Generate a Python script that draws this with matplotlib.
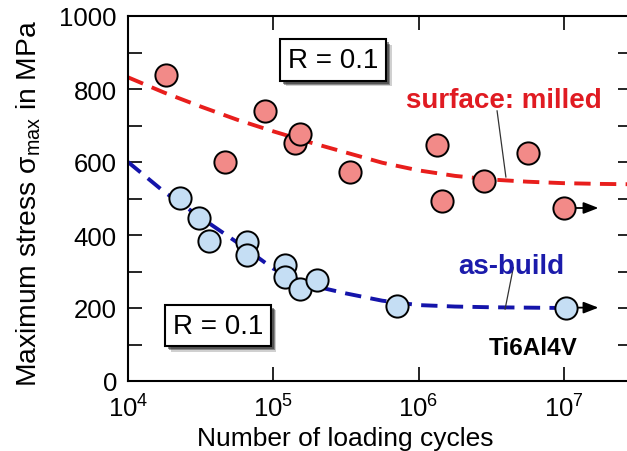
import numpy as np
import matplotlib
matplotlib.use("Agg")
import matplotlib.pyplot as plt
from matplotlib import patheffects as pe

plt.rcParams["font.family"] = ["Liberation Sans", "DejaVu Sans"]
plt.rcParams["mathtext.fontset"] = "custom"
plt.rcParams["mathtext.rm"] = "Liberation Sans"
plt.rcParams["mathtext.default"] = "regular"

# Fatigue test results (cycles to failure / run-out, maximum stress in MPa)
milled_cycles = [1.82e4, 4.62e4, 8.73e4, 1.40e5, 1.52e5, 3.39e5,
                 1.33e6, 1.44e6, 2.83e6, 5.69e6, 1.01e7]
milled_stress = [839, 599, 741, 651, 677, 572, 647, 494, 549, 626, 474]

asbuild_cycles = [2.29e4, 3.06e4, 3.59e4, 6.59e4, 6.59e4, 1.21e5,
                  1.21e5, 1.53e5, 2.01e5, 7.06e5, 1.03e7]
asbuild_stress = [501, 447, 384, 380, 345, 318, 284, 252, 278, 206, 201]

# Trend curves (log10 of cycles, stress in MPa)
milled_fit_logn = [4.0, 4.25, 4.5, 4.75, 5.0, 5.25, 5.5, 5.75, 6.0, 6.25,
                   6.5, 6.75, 7.0, 7.25, 7.47]
milled_fit_stress = [832, 790, 752, 716, 684, 654, 626, 598, 577, 562,
                     552, 546, 542, 540, 539]
asbuild_fit_logn = [4.0, 4.25, 4.5, 4.75, 5.0, 5.25, 5.5, 5.75, 6.0, 6.25,
                    6.5, 6.75, 7.0]
asbuild_fit_stress = [600, 518, 448, 380, 308, 263, 240, 220, 208, 204,
                      202, 201, 200]

# Run-out arrows (start cycles, end cycles, stress)
runout_milled = (1.01e7, 1.73e7, 474)
runout_asbuild = (1.03e7, 1.73e7, 201)

x_ticks = [1e4, 1e5, 1e6, 1e7]
x_tick_labels = [r"$\mathregular{10^{4}}$", r"$\mathregular{10^{5}}$",
                 r"$\mathregular{10^{6}}$", r"$\mathregular{10^{7}}$"]
y_ticks = [0, 200, 400, 600, 800, 1000]

red_line = "#e81e1c"
blue_line = "#1414aa"
red_fill = "#f28a88"
blue_fill = "#c5def4"

W, H = 627, 452
fig = plt.figure(figsize=(W / 100, H / 100), dpi=100)
ax = fig.add_axes([128 / W, (H - 382) / H, (632 - 128) / W, (382 - 17) / H])
ax.set_xscale("log")
ax.set_xlim(1e4, 10 ** 7.469)
ax.set_ylim(0, 1000)

ax.plot(10 ** np.array(milled_fit_logn), milled_fit_stress, color=red_line,
        lw=2.8, dashes=(4.2, 2.4), zorder=2)
ax.plot(10 ** np.array(asbuild_fit_logn), asbuild_fit_stress, color=blue_line,
        lw=2.8, dashes=(4.2, 2.4), zorder=2)

for x0, x1, y in (runout_milled, runout_asbuild):
    ax.annotate("", xy=(x1, y), xytext=(x0, y),
                arrowprops=dict(arrowstyle="-|>,head_length=0.9,head_width=0.35",
                                color="black", lw=1.3, shrinkA=0, shrinkB=0),
                zorder=3)

ax.plot(milled_cycles, milled_stress, "o", ms=16, mfc=red_fill, mec="black",
        mew=1.4, zorder=4)
ax.plot(asbuild_cycles, asbuild_stress, "o", ms=16, mfc=blue_fill, mec="black",
        mew=1.4, zorder=4)

# leader lines from the labels to the curves
ax.plot([3.47e6, 3.99e6], [740, 559], color="#333333", lw=0.9, zorder=3)
ax.plot([4.49e6, 3.94e6], [311, 197], color="#333333", lw=0.9, zorder=3)

ax.text(3.87e6, 751, "surface: milled", color="#e01b22", fontsize=20,
        fontweight="bold", ha="center", va="baseline")
ax.text(4.35e6, 296, "as-build", color="#1b1bab", fontsize=20,
        fontweight="bold", ha="center", va="baseline")
ax.text(6.12e6, 74, "Ti6Al4V", color="black", fontsize=17.5,
        fontweight="bold", ha="center", va="baseline")

shadow = [pe.SimplePatchShadow(offset=(4, -4), shadow_rgbFace="#666666", alpha=0.3),
          pe.SimplePatchShadow(offset=(3, -3), shadow_rgbFace="#333333", alpha=0.45),
          pe.SimplePatchShadow(offset=(2, -2), shadow_rgbFace="#222222", alpha=0.5),
          pe.Normal()]
for xb, yb in ((2.58e5, 879), (4.16e4, 152)):
    t = ax.text(xb, yb, "R = 0.1", fontsize=20, ha="center", va="center",
                bbox=dict(boxstyle="square,pad=0.28", fc="white", ec="black",
                          lw=1.5), zorder=5)
    t.get_bbox_patch().set_path_effects(shadow)

ax.set_xticks(x_ticks)
ax.set_xticklabels(x_tick_labels)
ax.xaxis.set_minor_locator(matplotlib.ticker.NullLocator())
ax.set_yticks(y_ticks)
ax.set_yticks(np.arange(100, 1000, 200), minor=True)
ax.tick_params(axis="both", which="both", direction="in", top=True, right=True,
               length=10, width=1.2, labelsize=18.5, colors="black")
ax.tick_params(axis="x", which="major", pad=10)
ax.tick_params(axis="y", which="major", pad=8)
for s in ax.spines.values():
    s.set_linewidth(1.5)

ax.set_xlabel("Number of loading cycles", fontsize=19)
ax.xaxis.set_label_coords((345 - 128) / 504, -0.122)
ax.set_ylabel(r"Maximum stress σ$_{\mathregular{max}}$ in MPa", fontsize=20.3)
ax.yaxis.set_label_coords(-0.168, 0.49)

fig.savefig("out.png", dpi=100)
